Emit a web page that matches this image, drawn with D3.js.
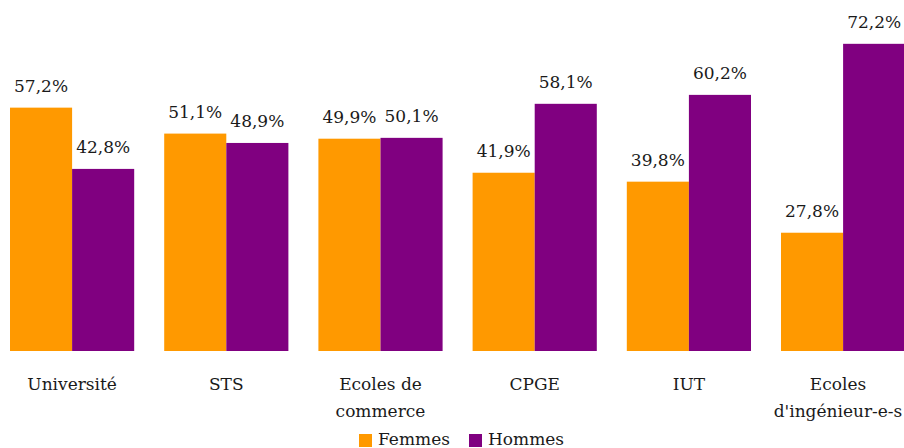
<!DOCTYPE html>
<html><head><meta charset="utf-8">
<script src="https://cdn.jsdelivr.net/npm/d3@7"></script>
<style>body{margin:0;background:#fff}svg{display:block}</style>
</head><body>
<svg id="c" width="904" height="448"></svg>
<script>
const categories = [["Université"],["STS"],["Ecoles de","commerce"],["CPGE"],["IUT"],["Ecoles","d'ingénieur-e-s"]];
const seriesNames = ["Femmes","Hommes"];
const femmes = [57.2,51.1,49.9,41.9,39.8,27.8];
const hommes = [42.8,48.9,50.1,58.1,60.2,72.2];
const colors = ["#FF9900","#800080"];

const FONT = "DejaVu Serif, serif";
const FS = 17;
const svg = d3.select("#c");
const keys = categories.map(c=>c.join(" "));
const x0 = d3.scaleBand().domain(keys).range([-5, 920.2]).paddingInner(0.1946).paddingOuter(0.0973);
const x1 = d3.scaleBand().domain(seriesNames).range([0, x0.bandwidth()]);
const y = d3.scaleLinear().domain([0, 82.5]).range([351, 0]);
const color = d3.scaleOrdinal().domain(seriesNames).range(colors);
const fmt = v => v.toFixed(1).replace(".", ",") + "%";

const data = keys.map((k,i)=>({k, vals:[{s:"Femmes",v:femmes[i]},{s:"Hommes",v:hommes[i]}]}));
const g = svg.selectAll("g.cat").data(data).join("g").attr("class","cat")
  .attr("transform", d=>`translate(${x0(d.k)},0)`);
g.selectAll("rect").data(d=>d.vals).join("rect")
  .attr("x", d=>x1(d.s)).attr("width", x1.bandwidth())
  .attr("y", d=>y(d.v)).attr("height", d=>y(0)-y(d.v))
  .attr("fill", d=>color(d.s));
g.selectAll("text.val").data(d=>d.vals).join("text").attr("class","val")
  .attr("x", d=>x1(d.s)+x1.bandwidth()/2).attr("y", d=>y(d.v)-16)
  .attr("text-anchor","middle").attr("font-family",FONT).attr("font-size",FS)
  .attr("fill","#1a1a1a").text(d=>fmt(d.v));

// category labels
const xa = svg.append("g").attr("transform","translate(0,351)")
  .call(d3.axisBottom(x0).tickSize(0).tickFormat(""));
xa.select(".domain").remove();
categories.forEach((c,i)=>{
  const cx = Math.min(x0(keys[i])+x0.bandwidth()/2, 838);
  const t = svg.append("text").attr("x", cx).attr("y",390)
    .attr("text-anchor","middle").attr("font-family",FONT).attr("font-size",FS).attr("fill","#1a1a1a");
  c.forEach((line,j)=>t.append("tspan").attr("x", cx).attr("dy", j?27:0).text(line));
});

// legend
const legX = [359, 469];
seriesNames.forEach((s,i)=>{
  svg.append("rect").attr("x",legX[i]).attr("y",434).attr("width",13).attr("height",13).attr("fill",color(s));
  svg.append("text").attr("x",legX[i]+19).attr("y",445).attr("font-family",FONT).attr("font-size",FS)
    .attr("fill","#1a1a1a").text(s);
});
</script>
</body></html>
